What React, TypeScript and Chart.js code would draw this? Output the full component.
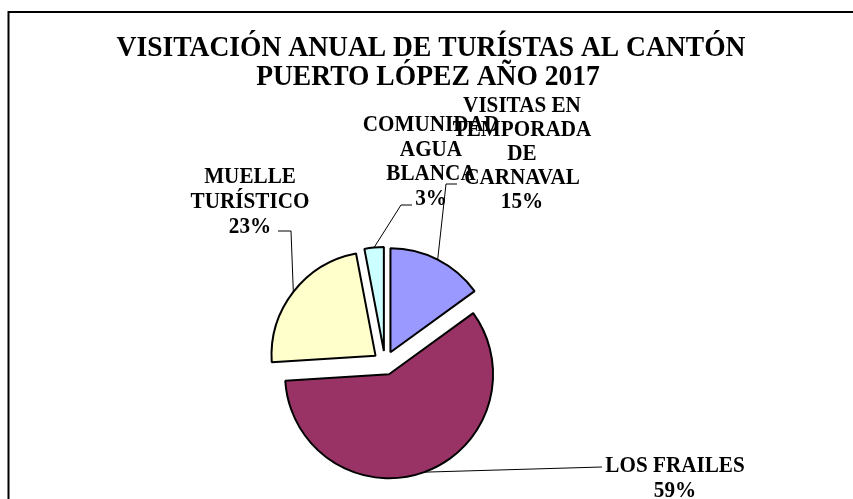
import React, { useEffect, useRef } from "react";
import { Chart, registerables } from "chart.js";

Chart.register(...registerables);

// ---- data ----
const categories = [
  "VISITAS EN TEMPORADA DE CARNAVAL",
  "LOS FRAILES",
  "MUELLE TURÍSTICO",
  "COMUNIDAD AGUA BLANCA",
];
const labelLines = [
  ["VISITAS EN", "TEMPORADA", "DE", "CARNAVAL"],
  ["LOS FRAILES"],
  ["MUELLE", "TURÍSTICO"],
  ["COMUNIDAD", "AGUA", "BLANCA"],
];
const values = [15, 59, 23, 3];
const colors = ["#9999FF", "#993366", "#FFFFCC", "#CCFFFF"];
const titleLines = ["VISITACIÓN ANUAL DE TURÍSTAS AL CANTÓN", "PUERTO LÓPEZ AÑO 2017"];

// ---- layout ----
const EXPLODE = 12;
const labelLayout = [
  { cx: 522, y: 112, lh: 24, leader: [[457, 184], [446, 184]] },
  { cx: 675, y: 472, lh: 25, leader: [[602, 467]] },
  { cx: 250, y: 183, lh: 25, leader: [[278, 231], [291, 231]] },
  { cx: 431, y: 131, lh: 24.5, leader: [[412, 205], [401, 205]] },
];

function drawScaled(ctx: CanvasRenderingContext2D, text: string, x: number, y: number, sx: number) {
  ctx.save();
  ctx.translate(x, y);
  ctx.scale(sx, 1);
  ctx.fillText(text, 0, 0);
  ctx.restore();
}

const explodePlugin = {
  id: "explode",
  afterDatasetsUpdate(chart: any) {
    const meta = chart.getDatasetMeta(0);
    meta.data.forEach((el: any) => {
      const mid = (el.startAngle + el.endAngle) / 2;
      el.x += EXPLODE * Math.cos(mid);
      el.y += EXPLODE * Math.sin(mid);
    });
  },
};

const decorPlugin = {
  id: "decor",
  afterDraw(chart: any) {
    const ctx: CanvasRenderingContext2D = chart.ctx;
    const meta = chart.getDatasetMeta(0);
    const total = values.reduce((a, b) => a + b, 0);

    ctx.save();
    // chart area border
    ctx.strokeStyle = "#000";
    ctx.lineWidth = 2;
    ctx.strokeRect(8.5, 12, 900, 600);

    // title
    ctx.fillStyle = "#000";
    ctx.textAlign = "center";
    ctx.textBaseline = "alphabetic";
    ctx.font = 'bold 29px "Liberation Serif", "Times New Roman", serif';
    drawScaled(ctx, titleLines[0], 431, 56, 0.95);
    drawScaled(ctx, titleLines[1], 428, 85, 0.95);

    // leader lines
    ctx.lineWidth = 1;
    ctx.strokeStyle = "#000";
    meta.data.forEach((el: any, i: number) => {
      const mid = (el.startAngle + el.endAngle) / 2;
      const ax = el.x + el.outerRadius * Math.cos(mid);
      const ay = el.y + el.outerRadius * Math.sin(mid);
      const pts = labelLayout[i].leader;
      ctx.beginPath();
      ctx.moveTo(pts[0][0], pts[0][1]);
      for (let k = 1; k < pts.length; k++) ctx.lineTo(pts[k][0], pts[k][1]);
      ctx.lineTo(ax, ay);
      ctx.stroke();
    });

    // labels
    ctx.font = 'bold 23px "Liberation Serif", "Times New Roman", serif';
    categories.forEach((_, i) => {
      const lay = labelLayout[i];
      const lines = [...labelLines[i], Math.round((values[i] / total) * 100) + "%"];
      lines.forEach((t, k) => drawScaled(ctx, t, lay.cx, lay.y + k * lay.lh, 0.92));
    });
    ctx.restore();
  },
};

export default function App() {
  const ref = useRef<HTMLCanvasElement>(null);
  useEffect(() => {
    if (!ref.current) return;
    const chart = new Chart(ref.current, {
      type: "pie",
      data: {
        labels: categories,
        datasets: [
          {
            data: values,
            backgroundColor: colors,
            borderColor: "#000",
            borderWidth: 2,
          },
        ],
      },
      options: {
        animation: false,
        responsive: false,
        events: [],
        radius: 104,
        layout: { padding: { left: 200, right: 283, top: 240, bottom: 13 } },
        plugins: {
          legend: { display: false },
          tooltip: { enabled: false },
          title: { display: false },
        },
      } as any,
      plugins: [explodePlugin, decorPlugin],
    });
    return () => chart.destroy();
  }, []);
  return (
    <div style={{ position: "fixed", left: 0, top: 0, width: 853, height: 499, background: "#fff" }}>
      <canvas ref={ref} width={853} height={499} style={{ display: "block" }} />
    </div>
  );
}
